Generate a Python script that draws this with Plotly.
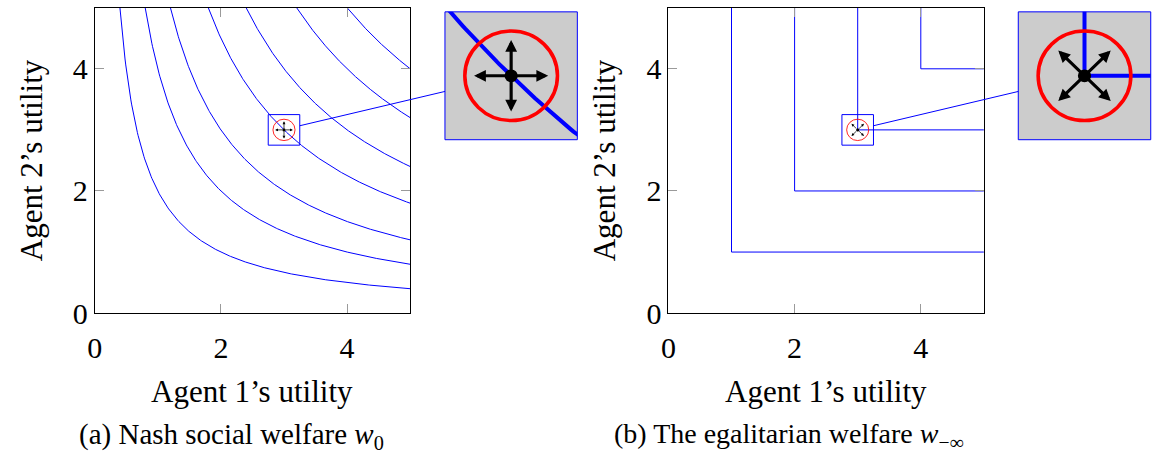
import numpy as np
import plotly.graph_objects as go

# Canvas size in pixels
W, H = 1157, 466

# Level values of the two welfare functions
nash_levels = [2, 4, 6, 9, 12, 16, 20]      # u1 * u2 = c
egal_levels = [1, 2, 3, 4]                  # min(u1, u2) = c
axis_max = 5
tick_vals = [0, 2, 4]

# Highlighted utility profile and its magnified neighbourhood
focus = (3, 3)
zoom_half = 0.25
ring_radius = 0.175
dot_radius = 0.025
arrow_len = 0.14

BLUE = "#0000ff"
RED = "#ff0000"
GRAY_FILL = "#cccccc"
FONT = "Liberation Serif"
MAG = 4.2  # magnification of the inset views


def fx(p):
    return p / W


def fy(p):
    return 1 - p / H


# Panel frames in pixels: (left, top, right, bottom)
left_main = (87.3, 8.0, 405.0, 325.0)
right_main = (665.0, 8.0, 982.7, 325.0)
left_inset = (440.0, 12.3, 573.3, 145.0)
right_inset = (1017.3, 12.3, 1150.7, 145.0)

fig = go.Figure()

main_axis = dict(
    range=[0, axis_max], tickvals=tick_vals, ticks="inside", ticklen=9,
    tickcolor="#9a9a9a", tickwidth=1, showline=True, linecolor="black",
    linewidth=1, mirror="allticks", showgrid=False, zeroline=False,
    tickfont=dict(family=FONT, size=30, color="black"), fixedrange=True,
)
inset_axis = dict(
    range=[focus[0] - zoom_half, focus[0] + zoom_half], showticklabels=False,
    ticks="", showline=False, showgrid=False, zeroline=False, fixedrange=True,
)


def dom(frame):
    l, t, r, b = frame
    return [fx(l), fx(r)], [fy(b), fy(t)]


panels = [("x", "y", left_main, main_axis), ("x2", "y2", left_inset, inset_axis),
          ("x3", "y3", right_main, main_axis), ("x4", "y4", right_inset, inset_axis)]
for xa, ya, frame, style in panels:
    dx, dy = dom(frame)
    xkey = "xaxis" + xa[1:]
    ykey = "yaxis" + ya[1:]
    fig.update_layout({
        xkey: dict(style, domain=dx, anchor=ya),
        ykey: dict(style, domain=dy, anchor=xa),
    })
fig.update_xaxes(ticklabelstandoff=8, selector=dict(anchor="y"))
fig.update_xaxes(ticklabelstandoff=8, selector=dict(anchor="y3"))

# Nash welfare level curves u1*u2 = c
for c in nash_levels:
    xs = np.linspace(c / axis_max, axis_max, 400)
    ys = c / xs
    for xa, ya, w in (("x", "y", 1.0), ("x2", "y2", 4.0)):
        fig.add_trace(go.Scatter(x=xs, y=ys, xaxis=xa, yaxis=ya, mode="lines",
                                 line=dict(color=BLUE, width=w),
                                 hoverinfo="skip", showlegend=False))

# Egalitarian welfare level curves min(u1, u2) = c
for c in egal_levels:
    xs = [c, c, axis_max]
    ys = [axis_max, c, c]
    for xa, ya, w in (("x3", "y3", 1.0), ("x4", "y4", 4.0)):
        fig.add_trace(go.Scatter(x=xs, y=ys, xaxis=xa, yaxis=ya, mode="lines",
                                 line=dict(color=BLUE, width=w),
                                 hoverinfo="skip", showlegend=False))

shapes = []
annotations = []
fx0, fy0 = focus

# Directions of improvement drawn at the focus point
left_dirs = [(1, 0), (-1, 0), (0, 1), (0, -1)]
d = 1 / np.sqrt(2)
right_dirs = [(d, d), (-d, d), (d, -d), (-d, -d)]

views = [
    ("x", "y", 1.0, left_dirs, "x2"),
    ("x2", "y2", MAG, left_dirs, None),
    ("x3", "y3", 1.0, right_dirs, "x4"),
    ("x4", "y4", MAG, right_dirs, None),
]
for xa, ya, scale, dirs, inset in views:
    if inset is not None:
        # frame of the magnified region
        shapes.append(dict(type="rect", xref=xa, yref=ya,
                           x0=fx0 - zoom_half, x1=fx0 + zoom_half,
                           y0=fy0 - zoom_half, y1=fy0 + zoom_half,
                           line=dict(color=BLUE, width=1), layer="above"))
    else:
        shapes.append(dict(type="rect", xref=xa + " domain", yref=ya + " domain",
                           x0=0, x1=1, y0=0, y1=1, fillcolor=GRAY_FILL,
                           line=dict(width=0), layer="below"))
        shapes.append(dict(type="rect", xref=xa + " domain", yref=ya + " domain",
                           x0=0, x1=1, y0=0, y1=1,
                           line=dict(color=BLUE, width=1), layer="above"))
    shapes.append(dict(type="circle", xref=xa, yref=ya,
                       x0=fx0 - ring_radius, x1=fx0 + ring_radius,
                       y0=fy0 - ring_radius, y1=fy0 + ring_radius,
                       line=dict(color=RED, width=0.85 * scale), layer="above"))
    for ux, uy in dirs:
        annotations.append(dict(
            xref=xa, yref=ya, axref=xa, ayref=ya,
            x=fx0 + ux * arrow_len, y=fy0 + uy * arrow_len, ax=fx0, ay=fy0,
            text="", showarrow=True, arrowhead=2, arrowsize=0.75,
            arrowwidth=0.75 * scale, arrowcolor="black", standoff=0,
        ))
    shapes.append(dict(type="circle", xref=xa, yref=ya,
                       x0=fx0 - dot_radius, x1=fx0 + dot_radius,
                       y0=fy0 - dot_radius, y1=fy0 + dot_radius,
                       fillcolor="black", line=dict(color="black", width=0),
                       layer="above"))


# Connector from each zoom frame to its inset, along the line joining centres
def connector(main, inset):
    l, t, r, b = main
    px_per = (r - l) / axis_max
    cx = l + fx0 * px_per
    cy = b - fy0 * px_per
    half = zoom_half * px_per
    il, it, ir, ib = inset
    icx, icy = (il + ir) / 2, (it + ib) / 2
    slope = (icy - cy) / (icx - cx)
    x_start = cx + half
    y_start = cy + slope * half
    y_end = cy + slope * (il - cx)
    return dict(type="line", xref="paper", yref="paper",
                x0=fx(x_start), y0=fy(y_start), x1=fx(il), y1=fy(y_end),
                line=dict(color=BLUE, width=1), layer="above")


shapes.append(connector(left_main, left_inset))
shapes.append(connector(right_main, right_inset))

# Axis titles and sub-captions
for frame, ylab_x in ((left_main, 24), (right_main, 601)):
    l, t, r, b = frame
    annotations.append(dict(xref="paper", yref="paper", x=fx((l + r) / 2), y=fy(406),
                            text="Agent 1’s utility", showarrow=False,
                            xanchor="center", yanchor="middle",
                            font=dict(family=FONT, size=31, color="black")))
    annotations.append(dict(xref="paper", yref="paper", x=fx(ylab_x), y=fy((t + b) / 2),
                            text="Agent 2’s utility", showarrow=False, textangle=-90,
                            xanchor="center", yanchor="middle",
                            font=dict(family=FONT, size=31, color="black")))

captions = [("(a) Nash social welfare <i>w</i><sub>0</sub>", 225, 29),
            ("(b) The egalitarian welfare <i>w</i><sub>−∞</sub>", 786, 28)]
for text, cx, size in captions:
    annotations.append(dict(xref="paper", yref="paper", x=fx(cx), y=fy(452),
                            text=text, showarrow=False, xanchor="center",
                            yanchor="middle",
                            font=dict(family=FONT, size=size, color="black")))

fig.update_layout(
    width=W, height=H, margin=dict(l=0, r=0, t=0, b=0),
    paper_bgcolor="white", plot_bgcolor="white",
    shapes=shapes, annotations=annotations, showlegend=False,
)

fig.write_html("out.html")
